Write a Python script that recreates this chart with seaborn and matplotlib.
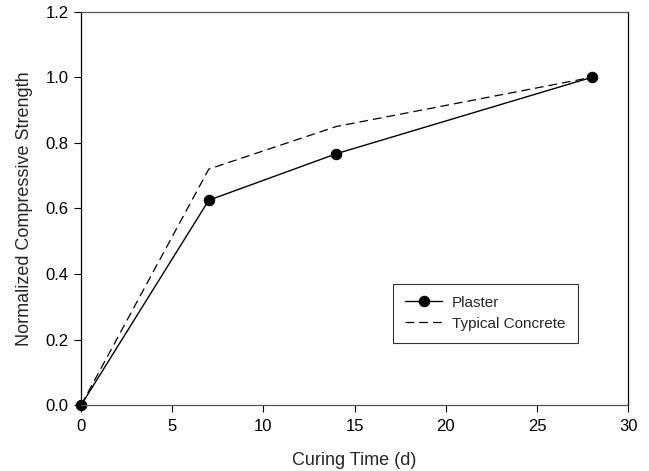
import pandas as pd
import matplotlib
matplotlib.use("Agg")
import matplotlib.pyplot as plt
import seaborn as sns

# Data
curing_days = [0, 7, 14, 28]
plaster = [0.0, 0.625, 0.767, 1.0]
typical_concrete = [0.0, 0.72, 0.85, 1.0]

sns.set_style("ticks")
plt.rcParams['font.family'] = ['Liberation Sans', 'DejaVu Sans']

df = pd.DataFrame({'Days': curing_days, 'Plaster': plaster, 'Typical Concrete': typical_concrete})

fig = plt.figure(figsize=(6.49, 4.71), dpi=100)
ax = fig.add_axes([0.125, 0.140, 0.843, 0.835])

sns.lineplot(data=df, x='Days', y='Plaster', ax=ax, color='black', linewidth=1,
             marker='o', markersize=7.5, markeredgecolor='black', label='Plaster')
sns.lineplot(data=df, x='Days', y='Typical Concrete', ax=ax, color='black', linewidth=0.9,
             label='Typical Concrete')
ax.lines[-1].set_dashes((7, 4))

ax.set_xlim(0, 30)
ax.set_ylim(0, 1.2)
ax.set_xticks([0, 5, 10, 15, 20, 25, 30])
ax.set_yticks([0.0, 0.2, 0.4, 0.6, 0.8, 1.0, 1.2])
ax.set_yticklabels(['0.0', '0.2', '0.4', '0.6', '0.8', '1.0', '1.2'])
ax.tick_params(direction='out', length=5, width=0.8, labelsize=12, colors='black')
ax.tick_params(axis='y', pad=4)
ax.tick_params(axis='x', pad=5)
for s in ax.spines.values():
    s.set_visible(True)
    s.set_linewidth(0.9)
    s.set_color('black')
ax.spines['top'].set_color('#555555')
ax.spines['bottom'].set_color('#555555')

ax.set_xlabel('Curing Time (d)', fontsize=13, labelpad=13)
ax.set_ylabel('Normalized Compressive Strength', fontsize=13, labelpad=9)

for ln in ax.lines:
    ln.set_clip_on(False)

leg = ax.legend(loc='lower left', bbox_to_anchor=(0.57, 0.158),
                fontsize=11, frameon=True, fancybox=False, edgecolor='black',
                handlelength=2.4, borderpad=0.8, labelspacing=0.45, handletextpad=0.65,
                borderaxespad=0)
leg.get_frame().set_linewidth(0.8)

fig.savefig('out.png', dpi=100)
